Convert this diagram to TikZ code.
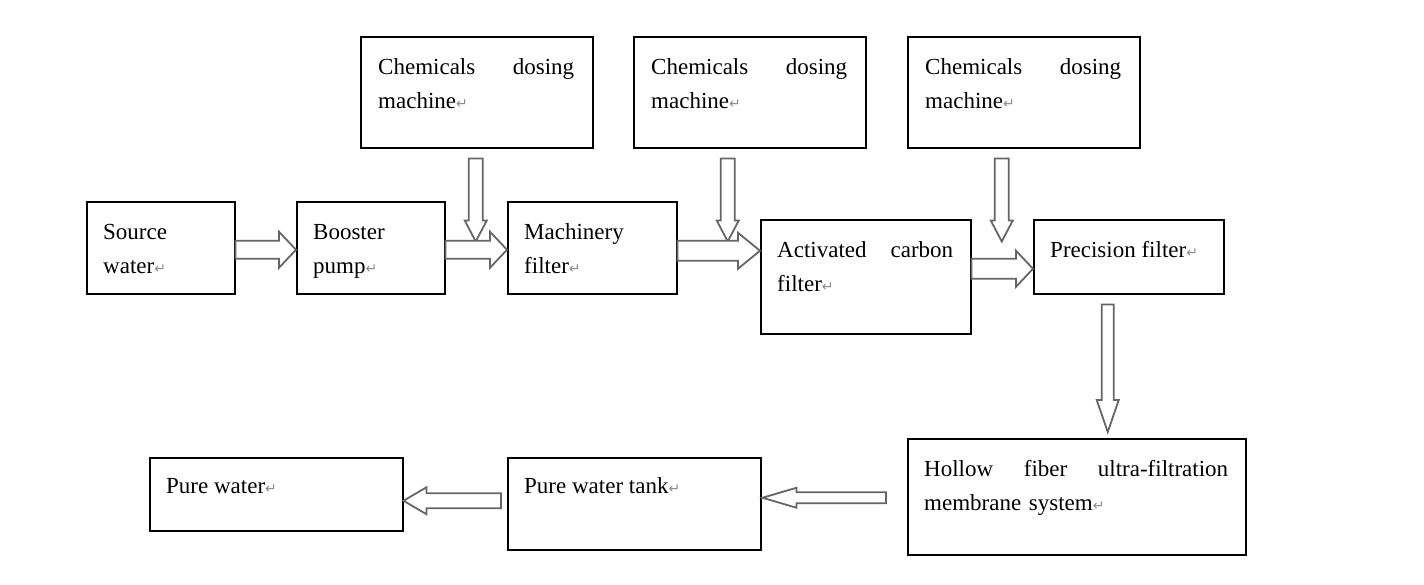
\documentclass[tikz,border=0pt]{standalone}
\usepackage{fontspec}
\setmainfont{Liberation Serif}
\newfontfamily\symfont{DejaVu Sans}
\usetikzlibrary{calc}
\newcommand{\ret}{{\symfont\fontsize{14}{14}\selectfont\textcolor{black!45}{↵}}}
% horizontal block arrow: from, to, shaft half, head half, signed head length
\newcommand{\harrow}[5]{%
  \draw[blk] let \p1=#1, \p2=#2 in
    (\x1,{\y1+#3}) -- ({\x2-(#5)},{\y1+#3}) -- ({\x2-(#5)},{\y1+#4}) -- (\x2,\y1)
    -- ({\x2-(#5)},{\y1-#4}) -- ({\x2-(#5)},{\y1-#3}) -- (\x1,{\y1-#3}) -- cycle;}
% downward block arrow: from, to, shaft half, head half, head length
\newcommand{\varrow}[5]{%
  \draw[blk] let \p1=#1, \p2=#2 in
    ({\x1-#3},\y1) -- ({\x1-#3},{\y2+#5}) -- ({\x1-#4},{\y2+#5}) -- (\x1,\y2)
    -- ({\x1+#4},{\y2+#5}) -- ({\x1+#3},{\y2+#5}) -- ({\x1+#3},\y1) -- cycle;}
\begin{document}
\begin{tikzpicture}[x=1pt,y=-1pt,
  box/.style={draw=black, line width=1.5pt, rectangle, inner sep=0pt, anchor=north west},
  txt/.style={anchor=north west, inner sep=0pt, align=left, font=\fontsize{23}{34}\selectfont},
  blk/.style={draw=black!60, line width=1.8pt, fill=white, line join=miter}]
\useasboundingbox[fill=white] (0,0) rectangle (1424,584);

% boxes
\node[box, minimum width=148pt, minimum height=92pt]  (src)   at (86,201)  {};
\node[box, minimum width=148pt, minimum height=92pt]  (boost) at (296,201) {};
\node[box, minimum width=169pt, minimum height=92pt]  (mach)  at (507,201) {};
\node[box, minimum width=210pt, minimum height=114pt] (act)   at (760,219) {};
\node[box, minimum width=190pt, minimum height=74pt]  (prec)  at (1033,219) {};
\node[box, minimum width=232pt, minimum height=111pt] (chemA) at (360,36)  {};
\node[box, minimum width=232pt, minimum height=111pt] (chemB) at (633,36)  {};
\node[box, minimum width=232pt, minimum height=111pt] (chemC) at (907,36)  {};
\node[box, minimum width=338pt, minimum height=116pt] (hol)   at (907,438) {};
\node[box, minimum width=253pt, minimum height=92pt]  (tank)  at (507,457) {};
\node[box, minimum width=253pt, minimum height=73pt]  (pure)  at (149,457) {};

% texts
\node[txt] (srcT)   at ($(src.north west)+(17,14)$)   {\strut Source\\water\ret};
\node[txt] (boostT) at ($(boost.north west)+(17,14)$) {\strut Booster\\pump\ret};
\node[txt] (machT)  at ($(mach.north west)+(17,14)$)  {\strut Machinery\\filter\ret};
\node[txt, text width=176pt] (actT) at ($(act.north west)+(17,14)$) {\strut Activated\hfill carbon\\filter\ret};
\node[txt] (precT)  at ($(prec.north west)+(17,14)$)  {\strut Precision filter\ret};
\node[txt, text width=196pt] (chemAT) at ($(chemA.north west)+(18,14)$) {\strut Chemicals\hfill dosing\\machine\ret};
\node[txt, text width=196pt] (chemBT) at ($(chemB.north west)+(18,14)$) {\strut Chemicals\hfill dosing\\machine\ret};
\node[txt, text width=196pt] (chemCT) at ($(chemC.north west)+(18,14)$) {\strut Chemicals\hfill dosing\\machine\ret};
\node[txt, text width=304pt] (holT) at ($(hol.north west)+(17,14)$) {\strut Hollow\hfill fiber\hfill ultra-filtration\\membrane system\ret};
\node[txt] (tankT)  at ($(tank.north west)+(17,12)$)  {\strut Pure water tank\ret};
\node[txt] (pureT)  at ($(pure.north west)+(17,12)$)  {\strut Pure water\ret};

% vertical arrows (drawn first so horizontal arrows overlap their tips)
\varrow{($(chemA.south)+(-1,10)$)}{($(chemA.south)+(-1,93)$)}{7pt}{11pt}{21pt}
\varrow{($(chemB.south)+(-22,10)$)}{($(chemB.south)+(-22,93)$)}{7pt}{11pt}{21pt}
\varrow{($(chemC.south)+(-22,10)$)}{($(chemC.south)+(-22,93)$)}{7pt}{11pt}{21pt}
\varrow{($(prec.south)+(-21,10)$)}{($(hol.north -| prec.south)+(-21,-6)$)}{6pt}{11pt}{32pt}

% horizontal arrows
\harrow{($(src.east)+(0,2)$)}{($(boost.west)+(0,2)$)}{9pt}{18pt}{17pt}
\harrow{($(boost.east)+(0,2)$)}{($(mach.west)+(0,2)$)}{9pt}{18pt}{17pt}
\harrow{($(mach.east)+(0,3)$)}{($(act.west |- mach.east)+(0,3)$)}{10pt}{18pt}{22pt}
\harrow{($(act.east)+(0,-8)$)}{($(prec.west |- act.east)+(0,-8)$)}{10pt}{18pt}{17pt}
\harrow{($(hol.west)+(-21,1)$)}{($(tank.east |- hol.west)+(1,1)$)}{5.5pt}{10pt}{-34pt}
\harrow{($(tank.west)+(-6,-3)$)}{($(pure.east |- tank.west)+(0,-3)$)}{7.5pt}{13.5pt}{-23pt}
\end{tikzpicture}
\end{document}
